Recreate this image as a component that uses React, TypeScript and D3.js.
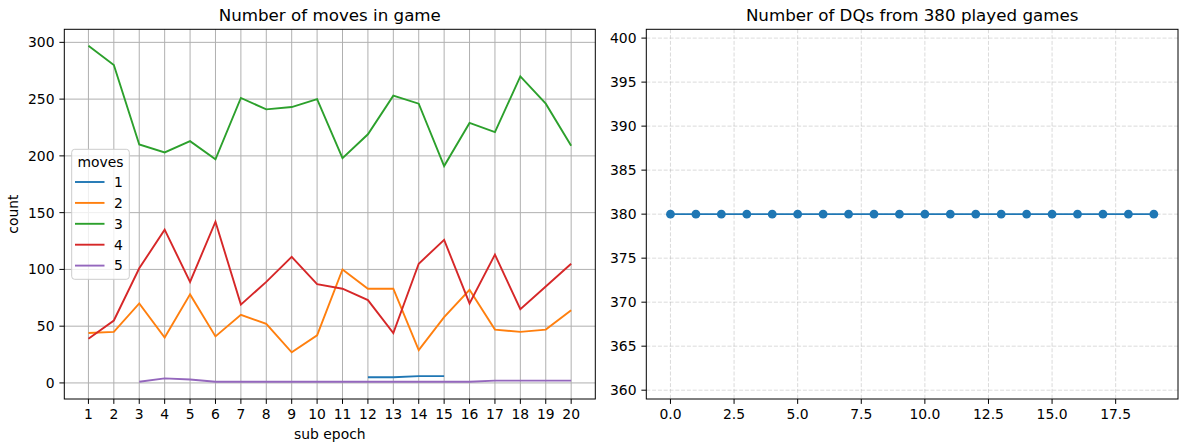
import React from "react";
import * as d3 from "d3";

const subEpochs = [1, 2, 3, 4, 5, 6, 7, 8, 9, 10, 11, 12, 13, 14, 15, 16, 17, 18, 19, 20];
const moves1: (number | null)[] = [null, null, null, null, null, null, null, null, null, null, null, 5, 5, 6, 6, null, null, null, null, null];
const moves2 = [44, 45, 70, 40, 78, 41, 60, 52, 27, 42, 100, 83, 83, 29, 58, 82, 47, 45, 47, 64];
const moves3 = [297, 280, 210, 203, 213, 197, 251, 241, 243, 250, 198, 219, 253, 246, 191, 229, 221, 270, 246, 209];
const moves4 = [39, 55, 101, 135, 89, 142, 69, 89, 111, 87, 83, 73, 44, 105, 126, 70, 113, 65, 85, 105];
const moves5: (number | null)[] = [null, null, 1, 4, 3, 1, 1, 1, 1, 1, 1, 1, 1, 1, 1, 1, 2, 2, 2, 2];
const seriesNames = ["1", "2", "3", "4", "5"];
const seriesColors = ["#1f77b4", "#ff7f0e", "#2ca02c", "#d62728", "#9467bd"];
const leftYTicks = [0, 50, 100, 150, 200, 250, 300];

const dqIndex = [0, 1, 2, 3, 4, 5, 6, 7, 8, 9, 10, 11, 12, 13, 14, 15, 16, 17, 18, 19];
const dqCounts = [380, 380, 380, 380, 380, 380, 380, 380, 380, 380, 380, 380, 380, 380, 380, 380, 380, 380, 380, 380];
const rightYTicks = [360, 365, 370, 375, 380, 385, 390, 395, 400];
const rightXTicks = [0, 2.5, 5, 7.5, 10, 12.5, 15, 17.5];

const FONT = "DejaVu Sans, sans-serif";
const TICK_FS = 13.9;
const TITLE_FS = 16.7;
const TL = 4.9;

export default function App() {
  const top = 29.3, bottom = 399;
  // Left chart
  const lx = d3.scaleLinear().domain([0.05, 20.95]).range([64.3, 595.3]);
  const ly = d3.scaleLinear().domain([-14.15, 311.5]).range([bottom, top]);
  const allSeries = [moves1, moves2, moves3, moves4, moves5];
  const lineGen = d3
    .line<number | null>()
    .defined((d) => d != null)
    .x((_, i) => lx(subEpochs[i]))
    .y((d) => ly(d as number));

  // Right chart
  const rx = d3.scaleLinear().domain([-0.95, 19.95]).range([646.3, 1178]);
  const ry = d3.scaleLinear().domain([359, 401]).range([bottom, top]);
  const rLine = d3
    .line<number>()
    .x((_, i) => rx(dqIndex[i]))
    .y((d) => ry(d));

  const legX = 71.7, legY = 149.3, legW = 57.6, legH = 130;
  const legRowY = [182, 202.9, 223.8, 244.7, 265.6];

  return (
    <svg
      width={1183}
      height={442}
      style={{ position: "absolute", left: 0, top: 0, background: "#fff" }}
      fontFamily={FONT}
    >
      <rect x={0} y={0} width={1183} height={442} fill="#fff" />
      {/* LEFT CHART */}
      <g>
        {subEpochs.map((t) => (
          <line key={"gx" + t} x1={lx(t)} x2={lx(t)} y1={top} y2={bottom} stroke="#b0b0b0" strokeWidth={1} />
        ))}
        {leftYTicks.map((t) => (
          <line key={"gy" + t} x1={lx.range()[0]} x2={lx.range()[1]} y1={ly(t)} y2={ly(t)} stroke="#b0b0b0" strokeWidth={1} />
        ))}
        {allSeries.map((s, k) => (
          <path key={"s" + k} d={lineGen(s) || ""} fill="none" stroke={seriesColors[k]} strokeWidth={1.9} />
        ))}
        <rect x={64.3} y={top} width={595.3 - 64.3} height={bottom - top} fill="none" stroke="#000" strokeWidth={1} />
        {subEpochs.map((t) => (
          <g key={"tx" + t}>
            <line x1={lx(t)} x2={lx(t)} y1={bottom} y2={bottom + TL} stroke="#000" strokeWidth={1} />
            <text x={lx(t)} y={bottom + 20} textAnchor="middle" fontSize={TICK_FS} fill="#000">
              {t}
            </text>
          </g>
        ))}
        {leftYTicks.map((t) => (
          <g key={"ty" + t}>
            <line x1={64.3 - TL} x2={64.3} y1={ly(t)} y2={ly(t)} stroke="#000" strokeWidth={1} />
            <text x={64.3 - 9.8} y={ly(t)} dy="0.35em" textAnchor="end" fontSize={TICK_FS} fill="#000">
              {t}
            </text>
          </g>
        ))}
        <text x={(64.3 + 595.3) / 2} y={438.5} textAnchor="middle" fontSize={TICK_FS} fill="#000">
          sub epoch
        </text>
        <text
          transform={`translate(17.5,${(top + bottom) / 2}) rotate(-90)`}
          textAnchor="middle"
          fontSize={TICK_FS}
          fill="#000"
        >
          count
        </text>
        <text x={(64.3 + 595.3) / 2} y={21} textAnchor="middle" fontSize={TITLE_FS} fill="#000">
          Number of moves in game
        </text>
        {/* Legend */}
        <rect x={legX} y={legY} width={legW} height={legH} rx={3} fill="#fff" fillOpacity={0.8} stroke="#cccccc" strokeWidth={1} />
        <text x={legX + legW / 2} y={161.7} dy="0.35em" textAnchor="middle" fontSize={TICK_FS} fill="#000">
          moves
        </text>
        {seriesNames.map((n, k) => (
          <g key={"lg" + n}>
            <line x1={75} x2={104.5} y1={legRowY[k]} y2={legRowY[k]} stroke={seriesColors[k]} strokeWidth={1.9} />
            <text x={114} y={legRowY[k]} dy="0.35em" fontSize={TICK_FS} fill="#000">
              {n}
            </text>
          </g>
        ))}
      </g>

      {/* RIGHT CHART */}
      <g>
        {rightXTicks.map((t) => (
          <line key={"rgx" + t} x1={rx(t)} x2={rx(t)} y1={top} y2={bottom} stroke="#b0b0b0" strokeOpacity={0.5} strokeWidth={0.9} strokeDasharray="4,1.8" />
        ))}
        {rightYTicks.map((t) => (
          <line key={"rgy" + t} x1={rx.range()[0]} x2={rx.range()[1]} y1={ry(t)} y2={ry(t)} stroke="#b0b0b0" strokeOpacity={0.5} strokeWidth={0.9} strokeDasharray="4,1.8" />
        ))}
        <path d={rLine(dqCounts) || ""} fill="none" stroke="#1f77b4" strokeWidth={1.9} />
        {dqCounts.map((v, i) => (
          <circle key={"dot" + i} cx={rx(dqIndex[i])} cy={ry(v)} r={4.4} fill="#1f77b4" />
        ))}
        <rect x={646.3} y={top} width={1178 - 646.3} height={bottom - top} fill="none" stroke="#000" strokeWidth={1} />
        {rightXTicks.map((t) => (
          <g key={"rtx" + t}>
            <line x1={rx(t)} x2={rx(t)} y1={bottom} y2={bottom + TL} stroke="#000" strokeWidth={1} />
            <text x={rx(t)} y={bottom + 20} textAnchor="middle" fontSize={TICK_FS} fill="#000">
              {t.toFixed(1)}
            </text>
          </g>
        ))}
        {rightYTicks.map((t) => (
          <g key={"rty" + t}>
            <line x1={646.3 - TL} x2={646.3} y1={ry(t)} y2={ry(t)} stroke="#000" strokeWidth={1} />
            <text x={646.3 - 9.8} y={ry(t)} dy="0.35em" textAnchor="end" fontSize={TICK_FS} fill="#000">
              {t}
            </text>
          </g>
        ))}
        <text x={(646.3 + 1178) / 2} y={21} textAnchor="middle" fontSize={TITLE_FS} fill="#000">
          Number of DQs from 380 played games
        </text>
      </g>
    </svg>
  );
}
